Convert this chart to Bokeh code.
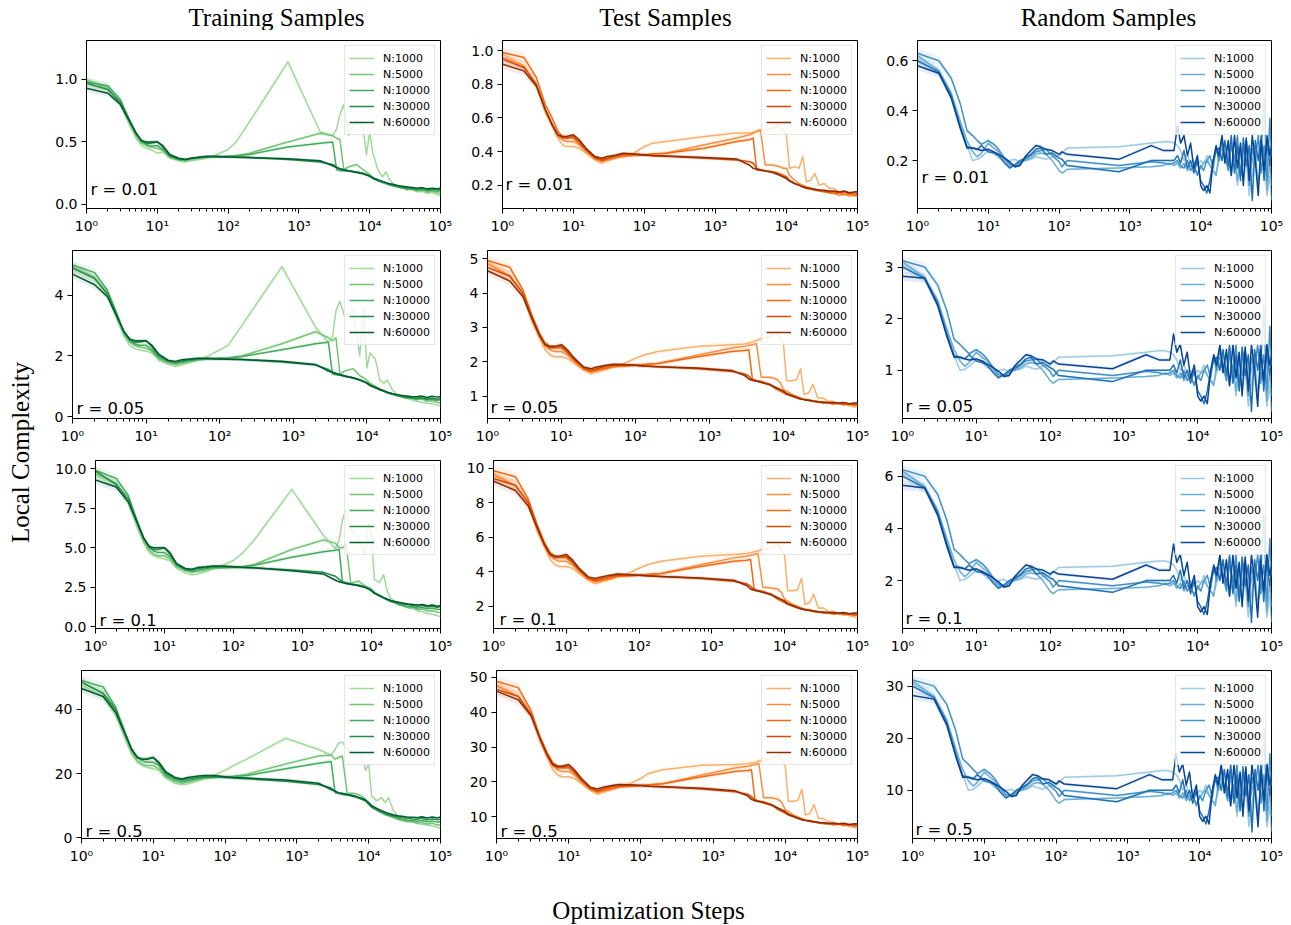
from bokeh.plotting import figure
from bokeh.layouts import row, column
from bokeh.models import FixedTicker, PrintfTickFormatter, CustomJSTickFormatter, Label, Range1d
from bokeh.embed import file_html
from bokeh.resources import INLINE
from bokeh.core.properties import value
import sys

# ---------------- data ----------------
COL_TITLES = ["Training Samples", "Test Samples", "Random Samples"]
Y_TITLE = "Local Complexity"
X_TITLE = "Optimization Steps"
N_LABELS = ["N:1000", "N:5000", "N:10000", "N:30000", "N:60000"]
R_LABELS = ["r = 0.01", "r = 0.05", "r = 0.1", "r = 0.5"]
X_TICKS = [1, 10, 100, 1000, 10000, 100000]

# optimisation steps at which train / test samples were read
steps_tt = [1, 2, 3, 4, 5, 6, 7, 8, 10, 12, 15, 20, 25, 30, 40, 50, 70, 100, 130, 200,
            700, 2000, 3000, 3400, 3800, 4300, 5000, 6500, 8000, 9000, 10000,
            11000, 13000, 15000, 17000, 19000, 22000, 25000, 29000, 34000, 40000,
            47000, 55000, 65000, 77000, 90000, 100000]
# optimisation steps at which random samples were read
steps_rand = [1, 2, 3, 4, 5, 6, 7, 8, 10, 12, 14, 17, 20, 24, 28, 33, 40, 47, 55, 65, 80, 100, 110, 130,
              700, 2000, 3000, 3600,
              4200, 4700, 5200, 5800, 6500, 7200, 8000, 9000, 10000, 11000, 12200, 13500, 15000,
              16500, 18000, 20000, 22000, 24500, 27000, 30000, 33000, 36500, 40000, 44000, 48500,
              53500, 59000, 65000, 71500, 78500, 86500, 95000, 100000]

# ---- Training samples ----
train_r001_n1000 = [1.00,0.94,0.80,0.64,0.53,0.47,0.45,0.44,0.41,0.42,0.37,0.35,0.34,0.35,0.36,0.37,0.40,0.44,0.50,0.66,1.14,0.58,0.55,0.60,0.72,0.80,0.55,0.68,0.62,0.40,0.58,0.42,0.28,0.22,0.26,0.20,0.16,0.14,0.13,0.115,0.12,0.10,0.105,0.09,0.095,0.08,0.07]
train_r001_n5000 = [0.99,0.93,0.81,0.66,0.55,0.49,0.47,0.46,0.45,0.43,0.38,0.355,0.35,0.36,0.37,0.375,0.38,0.385,0.39,0.41,0.50,0.57,0.55,0.53,0.52,0.28,0.30,0.32,0.28,0.26,0.24,0.22,0.19,0.18,0.17,0.16,0.15,0.14,0.135,0.12,0.125,0.11,0.115,0.10,0.105,0.095,0.09]
train_r001_n10000 = [0.98,0.95,0.84,0.68,0.57,0.50,0.48,0.47,0.47,0.44,0.385,0.36,0.355,0.365,0.375,0.38,0.38,0.385,0.39,0.40,0.46,0.49,0.50,0.28,0.27,0.27,0.265,0.26,0.25,0.24,0.23,0.21,0.19,0.175,0.165,0.155,0.145,0.14,0.13,0.125,0.12,0.115,0.12,0.11,0.115,0.105,0.11]
train_r001_n30000 = [0.97,0.92,0.82,0.68,0.57,0.51,0.49,0.49,0.50,0.46,0.39,0.365,0.36,0.37,0.375,0.38,0.38,0.38,0.378,0.375,0.36,0.34,0.32,0.30,0.285,0.28,0.27,0.26,0.25,0.24,0.23,0.215,0.20,0.185,0.175,0.165,0.155,0.15,0.14,0.135,0.13,0.125,0.13,0.12,0.125,0.115,0.12]
train_r001_n60000 = [0.93,0.89,0.80,0.67,0.57,0.51,0.50,0.50,0.50,0.47,0.40,0.37,0.36,0.37,0.38,0.385,0.385,0.38,0.378,0.375,0.365,0.35,0.31,0.295,0.285,0.275,0.27,0.255,0.245,0.235,0.225,0.21,0.195,0.185,0.175,0.165,0.16,0.15,0.145,0.14,0.135,0.13,0.135,0.125,0.13,0.125,0.13]

train_r005_n1000 = [4.95,4.6,4.0,3.2,2.65,2.35,2.25,2.2,2.15,2.1,1.85,1.72,1.65,1.7,1.78,1.85,2.0,2.2,2.35,3.0,4.95,2.95,2.45,2.6,3.5,3.8,3.3,3.5,2.0,3.6,1.6,2.1,1.9,1.2,1.1,1.2,0.9,0.75,0.68,0.6,0.56,0.5,0.47,0.44,0.42,0.38,0.35]
train_r005_n5000 = [4.95,4.6,4.0,3.3,2.7,2.45,2.35,2.3,2.25,2.15,1.9,1.77,1.72,1.76,1.82,1.86,1.9,1.92,1.93,2.0,2.4,2.8,2.6,2.5,2.6,1.4,1.5,1.58,1.35,1.28,1.2,1.1,1.0,0.9,0.85,0.8,0.75,0.7,0.65,0.6,0.62,0.55,0.58,0.5,0.52,0.46,0.45]
train_r005_n10000 = [5.0,4.75,4.15,3.4,2.8,2.5,2.4,2.35,2.35,2.2,1.95,1.8,1.75,1.8,1.85,1.88,1.9,1.92,1.93,1.98,2.2,2.4,2.45,1.4,1.38,1.36,1.33,1.28,1.22,1.17,1.12,1.05,0.95,0.88,0.83,0.78,0.73,0.7,0.66,0.62,0.6,0.58,0.6,0.55,0.57,0.53,0.55]
train_r005_n30000 = [4.9,4.55,4.05,3.35,2.8,2.55,2.45,2.45,2.5,2.3,2.0,1.85,1.8,1.83,1.87,1.9,1.9,1.9,1.89,1.88,1.8,1.7,1.55,1.47,1.42,1.38,1.35,1.28,1.2,1.15,1.1,1.02,0.95,0.88,0.83,0.78,0.74,0.7,0.67,0.64,0.62,0.6,0.63,0.58,0.6,0.57,0.6]
train_r005_n60000 = [4.7,4.35,3.95,3.3,2.8,2.55,2.5,2.5,2.5,2.35,2.05,1.85,1.82,1.87,1.9,1.92,1.92,1.9,1.89,1.88,1.82,1.72,1.5,1.45,1.42,1.38,1.33,1.27,1.2,1.15,1.1,1.03,0.96,0.9,0.85,0.8,0.76,0.73,0.7,0.68,0.66,0.65,0.68,0.63,0.67,0.64,0.66]

train_r01_n1000 = [9.6,9.0,7.8,6.3,5.3,4.7,4.5,4.4,4.3,4.2,3.7,3.4,3.3,3.35,3.5,3.65,3.9,4.2,4.6,5.5,8.7,5.8,4.95,5.5,6.8,7.4,6.2,5.6,4.6,6.6,5.8,3.0,2.8,3.3,2.2,1.8,1.6,1.45,1.35,1.25,1.15,1.0,0.95,0.85,0.8,0.7,0.65]
train_r01_n5000 = [9.7,9.1,7.9,6.5,5.4,4.85,4.6,4.5,4.5,4.3,3.8,3.55,3.45,3.5,3.6,3.7,3.72,3.75,3.78,3.95,4.9,5.5,5.3,5.0,5.0,5.2,2.75,2.9,2.6,2.5,2.4,2.2,2.0,1.85,1.7,1.6,1.5,1.4,1.3,1.2,1.22,1.1,1.12,1.0,1.02,0.92,0.9]
train_r01_n10000 = [9.9,9.4,8.3,6.7,5.6,5.0,4.8,4.7,4.7,4.45,3.9,3.6,3.5,3.6,3.7,3.75,3.75,3.77,3.8,3.9,4.4,4.75,4.85,4.9,2.8,2.75,2.7,2.65,2.55,2.45,2.35,2.15,1.95,1.8,1.7,1.6,1.5,1.42,1.35,1.28,1.25,1.2,1.22,1.15,1.18,1.1,1.12]
train_r01_n30000 = [9.85,9.0,8.1,6.7,5.6,5.05,4.9,4.9,5.0,4.6,3.95,3.65,3.6,3.7,3.75,3.8,3.8,3.78,3.75,3.72,3.6,3.45,3.2,3.0,2.85,2.8,2.72,2.62,2.5,2.4,2.3,2.15,2.0,1.85,1.75,1.65,1.55,1.5,1.45,1.4,1.35,1.3,1.35,1.25,1.3,1.22,1.28]
train_r01_n60000 = [9.3,8.85,7.9,6.6,5.6,5.1,5.0,5.0,5.0,4.7,4.0,3.7,3.65,3.75,3.8,3.85,3.85,3.8,3.77,3.74,3.55,3.35,2.95,2.85,2.8,2.75,2.7,2.6,2.5,2.4,2.28,2.12,1.98,1.85,1.75,1.67,1.6,1.55,1.5,1.45,1.42,1.38,1.42,1.33,1.38,1.3,1.35]

train_r05_n1000 = [47.5,44,38,31,26,23.5,22.5,22,21.5,21,18.5,17,16.5,16.8,17.5,18.3,19.5,21,22.5,24.5,31,27.5,25.7,27.5,29.5,29.8,28,25.5,27,21,23,13,11.5,12.5,11,12.5,8.5,7,6,5.5,5,4.5,4.2,4,3.7,3.3,3]
train_r05_n5000 = [48.5,45,39,32,26.5,24,23,22.5,22.5,21.5,19,17.5,17,17.3,18,18.5,18.8,19,19.2,19.8,23,25.5,25.8,24.5,25,25.5,14,13.8,13,12,10.5,9.5,8.5,7.8,7.2,6.8,6.3,5.8,5.4,5,5.1,4.6,4.8,4.3,4.5,4,4]
train_r05_n10000 = [49,47,40.5,33,27.5,25,24,23.5,23.5,22.5,19.5,18,17.5,17.8,18.3,18.7,18.8,19,19.1,19.4,21.5,23.2,23.8,14,13.8,13.5,13.3,12.8,12.2,11.5,10.8,9.8,8.8,8,7.5,7,6.6,6.2,5.8,5.5,5.4,5.2,5.4,5,5.2,4.9,5]
train_r05_n30000 = [48.5,45,40,33,27.5,25,24.5,24.5,25,23,20,18.5,18,18.3,18.7,19,19,18.8,18.6,18.4,17.6,16.6,15.5,14.5,14,13.8,13.5,12.8,12,11.5,10.5,9.6,8.7,8,7.6,7.2,6.9,6.6,6.3,6.1,5.9,5.8,6.1,5.6,5.9,5.6,5.8]
train_r05_n60000 = [46.5,44,39,32.5,27.5,25,24.5,24.5,25,23.5,20.5,18.8,18.3,18.8,19.2,19.4,19.4,19,18.8,18.6,18,17,15,14.5,14,13.8,13.5,13,12.3,11.8,11,10,9.2,8.5,8,7.6,7.2,6.9,6.7,6.5,6.4,6.3,6.6,6.2,6.5,6.2,6.5]

# ---- Test samples ----
test_r001_n1000 = [0.98,0.91,0.79,0.63,0.55,0.48,0.44,0.43,0.43,0.42,0.39,0.35,0.33,0.345,0.36,0.37,0.39,0.43,0.45,0.46,0.49,0.51,0.51,0.515,0.52,0.525,0.53,0.54,0.56,0.52,0.5,0.3,0.31,0.3,0.37,0.22,0.23,0.27,0.2,0.21,0.18,0.18,0.16,0.16,0.145,0.14,0.13]
test_r001_n5000 = [0.96,0.91,0.8,0.65,0.56,0.49,0.47,0.46,0.46,0.44,0.4,0.355,0.34,0.35,0.365,0.37,0.375,0.38,0.385,0.39,0.44,0.48,0.5,0.51,0.52,0.53,0.32,0.32,0.31,0.3,0.3,0.26,0.23,0.21,0.2,0.19,0.18,0.175,0.17,0.16,0.155,0.15,0.14,0.145,0.135,0.14,0.13]
test_r001_n10000 = [0.99,0.96,0.84,0.68,0.6,0.52,0.49,0.48,0.48,0.45,0.41,0.36,0.345,0.355,0.37,0.375,0.38,0.38,0.385,0.39,0.42,0.46,0.47,0.48,0.29,0.29,0.285,0.28,0.27,0.26,0.25,0.23,0.21,0.2,0.19,0.18,0.175,0.17,0.165,0.16,0.155,0.15,0.155,0.145,0.15,0.14,0.145]
test_r001_n30000 = [0.95,0.9,0.8,0.65,0.56,0.5,0.48,0.48,0.49,0.46,0.41,0.365,0.35,0.36,0.375,0.385,0.385,0.38,0.375,0.372,0.36,0.35,0.34,0.33,0.3,0.29,0.285,0.275,0.26,0.25,0.24,0.225,0.21,0.2,0.19,0.185,0.18,0.175,0.17,0.165,0.16,0.16,0.155,0.16,0.15,0.155,0.15]
test_r001_n60000 = [0.92,0.88,0.79,0.65,0.56,0.5,0.49,0.49,0.5,0.47,0.42,0.37,0.36,0.37,0.38,0.39,0.385,0.38,0.376,0.373,0.365,0.355,0.32,0.3,0.295,0.29,0.285,0.275,0.26,0.25,0.24,0.225,0.21,0.2,0.19,0.185,0.18,0.175,0.17,0.17,0.165,0.165,0.16,0.165,0.155,0.16,0.16]

test_r005_n1000 = [4.9,4.5,3.95,3.15,2.7,2.35,2.2,2.15,2.15,2.1,1.95,1.75,1.65,1.7,1.78,1.85,1.95,2.1,2.2,2.3,2.45,2.5,2.52,2.55,2.58,2.62,2.68,2.72,2.9,2.7,2.5,1.45,1.45,1.48,1.8,1.05,1.1,1.35,0.95,0.95,0.85,0.85,0.78,0.78,0.72,0.7,0.65]
test_r005_n5000 = [4.85,4.5,4.0,3.25,2.75,2.45,2.35,2.3,2.3,2.2,2.0,1.78,1.7,1.74,1.8,1.85,1.87,1.9,1.92,1.95,2.2,2.4,2.45,2.48,2.5,2.53,1.55,1.55,1.5,1.4,1.2,1.15,1.05,1.0,0.95,0.92,0.9,0.87,0.85,0.82,0.8,0.78,0.8,0.75,0.78,0.74,0.75]
test_r005_n10000 = [4.95,4.75,4.1,3.35,2.85,2.55,2.45,2.4,2.4,2.25,2.05,1.8,1.72,1.76,1.82,1.87,1.88,1.9,1.92,1.95,2.15,2.3,2.33,2.35,1.5,1.45,1.43,1.35,1.2,1.15,1.1,1.05,1.0,0.95,0.92,0.9,0.87,0.85,0.83,0.8,0.8,0.77,0.8,0.75,0.78,0.73,0.75]
test_r005_n30000 = [4.75,4.5,4.0,3.3,2.8,2.5,2.4,2.42,2.45,2.3,2.05,1.82,1.75,1.8,1.87,1.9,1.9,1.9,1.88,1.86,1.8,1.72,1.65,1.58,1.48,1.45,1.42,1.35,1.25,1.2,1.15,1.08,1.02,0.97,0.93,0.9,0.88,0.85,0.83,0.82,0.8,0.8,0.78,0.8,0.76,0.78,0.76]
test_r005_n60000 = [4.65,4.35,3.9,3.25,2.78,2.5,2.45,2.45,2.5,2.35,2.1,1.85,1.8,1.85,1.9,1.93,1.92,1.9,1.88,1.86,1.82,1.75,1.6,1.5,1.46,1.44,1.4,1.33,1.24,1.19,1.14,1.07,1.01,0.96,0.92,0.9,0.88,0.86,0.84,0.83,0.82,0.82,0.8,0.82,0.78,0.8,0.8]

test_r01_n1000 = [9.7,9.0,7.9,6.3,5.4,4.7,4.4,4.3,4.3,4.2,3.9,3.5,3.3,3.4,3.55,3.7,3.9,4.2,4.4,4.6,4.9,5.0,5.05,5.1,5.15,5.2,5.3,5.35,5.6,5.3,4.9,2.9,2.9,2.95,3.6,2.1,2.2,2.7,1.9,1.9,1.7,1.7,1.56,1.56,1.45,1.4,1.3]
test_r01_n5000 = [9.6,9.0,8.0,6.5,5.5,4.9,4.7,4.6,4.6,4.4,4.0,3.55,3.4,3.48,3.6,3.7,3.74,3.8,3.84,3.9,4.4,4.8,4.9,4.95,5.0,5.05,3.1,3.05,3.0,2.8,2.4,2.3,2.1,2.0,1.9,1.84,1.8,1.74,1.7,1.64,1.6,1.56,1.6,1.5,1.56,1.48,1.5]
test_r01_n10000 = [9.85,9.5,8.2,6.7,5.7,5.1,4.9,4.8,4.8,4.5,4.1,3.6,3.44,3.52,3.64,3.74,3.76,3.8,3.84,3.9,4.3,4.6,4.66,4.7,3.0,2.9,2.86,2.7,2.4,2.3,2.2,2.1,2.0,1.9,1.84,1.8,1.74,1.7,1.66,1.6,1.6,1.54,1.6,1.5,1.56,1.46,1.5]
test_r01_n30000 = [9.4,9.0,8.0,6.6,5.6,5.0,4.8,4.84,4.9,4.6,4.1,3.64,3.5,3.6,3.74,3.8,3.8,3.8,3.76,3.72,3.6,3.44,3.3,3.16,2.96,2.9,2.84,2.7,2.5,2.4,2.3,2.16,2.04,1.94,1.86,1.8,1.76,1.7,1.66,1.64,1.6,1.6,1.56,1.6,1.52,1.56,1.52]
test_r01_n60000 = [9.25,8.7,7.8,6.5,5.56,5.0,4.9,4.9,5.0,4.7,4.2,3.7,3.6,3.7,3.8,3.86,3.84,3.8,3.76,3.72,3.64,3.5,3.2,3.0,2.92,2.88,2.8,2.66,2.48,2.38,2.28,2.14,2.02,1.92,1.84,1.8,1.76,1.72,1.68,1.66,1.64,1.64,1.6,1.64,1.56,1.6,1.6]

test_r05_n1000 = [48,44.5,39,31.5,27,23.5,22,21.5,21.5,21,19.5,17.5,16.5,17,17.8,18.5,19.5,21,22.5,23.5,24.8,25,25.2,25.4,25.6,26,26.3,26.6,27.8,26.5,24.5,14.5,14.5,14.8,18,10.5,11,13.5,9.5,9.5,8.5,8.5,7.8,7.8,7.2,7,6.5]
test_r05_n5000 = [47.5,44.5,39.5,32,27.5,24.5,23.5,23,23,22,20,17.8,17,17.4,18,18.5,18.7,19,19.2,19.5,22,24,24.5,24.8,25,25.3,15.5,15.5,15,14,12,11.5,10.5,10,9.5,9.2,9,8.7,8.5,8.2,8,7.8,8,7.5,7.8,7.4,7.5]
test_r05_n10000 = [48.8,47,40.5,33,28.5,25.5,24.5,24,24,22.5,20.5,18,17.2,17.6,18.2,18.7,18.8,19,19.2,19.5,21.5,23,23.3,23.5,15,14.5,14.3,13.5,12,11.5,11,10.5,10,9.5,9.2,9,8.7,8.5,8.3,8,8,7.7,8,7.5,7.8,7.3,7.5]
test_r05_n30000 = [46.5,44.5,39.5,32.5,28,25,24,24.2,24.5,23,20.5,18.2,17.5,18,18.7,19,19,19,18.8,18.6,18,17.2,16.5,15.8,14.8,14.5,14.2,13.5,12.5,12,11.5,10.8,10.2,9.7,9.3,9,8.8,8.5,8.3,8.2,8,8,7.8,8,7.6,7.8,7.6]
test_r05_n60000 = [46,43.5,39,32.5,27.8,25,24.5,24.5,25,23.5,21,18.5,18,18.5,19,19.3,19.2,19,18.8,18.6,18.2,17.5,16,15,14.6,14.4,14,13.3,12.4,11.9,11.4,10.7,10.1,9.6,9.2,9,8.8,8.6,8.4,8.3,8.2,8.2,8,8.2,7.8,8,8]

# ---- Random samples ----
rand_r001_n1000 = [0.61,0.56,0.47,0.35,0.26,0.2,0.205,0.215,0.24,0.23,0.21,0.2,0.2,0.205,0.19,0.2,0.205,0.215,0.21,0.205,0.215,0.22,0.23,0.25,
                   0.255,0.27,0.275,0.275,
                   0.27,0.26,0.24,0.2,0.22,0.19,0.2,0.18,0.2,0.19,0.22,0.18,0.16,0.15,0.19,0.23,0.26,0.2,0.14,0.22,0.1,0.18,0.12,0.2,0.06,0.15,0.22,0.1,0.18,0.2,0.06,0.14,0.04]
rand_r001_n5000 = [0.62,0.56,0.47,0.36,0.28,0.235,0.215,0.23,0.27,0.25,0.235,0.2,0.175,0.18,0.195,0.2,0.21,0.225,0.23,0.225,0.2,0.16,0.15,0.165,
                   0.17,0.175,0.18,0.19,
                   0.18,0.19,0.17,0.19,0.16,0.18,0.17,0.15,0.17,0.19,0.2,0.18,0.16,0.14,0.22,0.25,0.2,0.27,0.15,0.22,0.12,0.24,0.18,0.28,0.14,0.2,0.24,0.1,0.22,0.45,0.08,0.2,0.1]
rand_r001_n10000 = [0.63,0.6,0.53,0.43,0.32,0.3,0.28,0.265,0.28,0.265,0.245,0.21,0.185,0.175,0.19,0.205,0.22,0.235,0.24,0.245,0.22,0.195,0.175,0.2,
                    0.18,0.195,0.19,0.185,
                    0.19,0.2,0.18,0.17,0.2,0.16,0.18,0.14,0.18,0.16,0.2,0.22,0.17,0.25,0.2,0.28,0.22,0.16,0.26,0.2,0.3,0.14,0.24,0.28,0.1,0.25,0.2,0.3,0.15,0.26,0.12,0.37,0.22]
rand_r001_n30000 = [0.6,0.555,0.46,0.34,0.255,0.25,0.245,0.26,0.235,0.23,0.22,0.19,0.17,0.185,0.2,0.21,0.225,0.245,0.25,0.225,0.23,0.21,0.205,0.18,
                    0.155,0.2,0.2,0.2,
                    0.2,0.22,0.19,0.24,0.17,0.2,0.15,0.2,0.12,0.1,0.07,0.12,0.2,0.24,0.25,0.2,0.28,0.18,0.3,0.15,0.26,0.12,0.29,0.18,0.26,0.04,0.28,0.2,0.3,0.12,0.27,0.18,0.24]
rand_r001_n60000 = [0.58,0.55,0.45,0.33,0.25,0.25,0.245,0.24,0.245,0.235,0.225,0.21,0.195,0.175,0.18,0.215,0.24,0.26,0.255,0.245,0.24,0.225,0.235,0.225,
                    0.205,0.26,0.24,0.24,
                    0.24,0.34,0.27,0.3,0.22,0.27,0.17,0.22,0.1,0.08,0.1,0.07,0.2,0.26,0.22,0.3,0.19,0.28,0.14,0.3,0.17,0.27,0.1,0.29,0.12,0.3,0.2,0.06,0.28,0.16,0.3,0.22,0.26]

rand_r005_n1000 = [3.05,2.8,2.35,1.75,1.3,1.0,1.02,1.08,1.2,1.15,1.05,1.0,1.0,1.02,0.95,1.0,1.02,1.08,1.05,1.02,1.08,1.1,1.15,1.25,
                   1.28,1.35,1.38,1.38,
                   1.35,1.3,1.2,1.0,1.1,0.95,1.0,0.9,1.0,0.95,1.1,0.9,0.8,0.75,0.95,1.15,1.3,1.0,0.7,1.1,0.5,0.9,0.6,1.0,0.3,0.75,1.1,0.5,0.9,1.0,0.3,0.7,0.2]
rand_r005_n5000 = [3.1,2.8,2.35,1.8,1.4,1.18,1.08,1.15,1.35,1.25,1.18,1.0,0.88,0.9,0.98,1.0,1.05,1.12,1.15,1.12,1.0,0.8,0.75,0.82,
                   0.85,0.88,0.9,0.95,
                   0.9,0.95,0.85,0.95,0.8,0.9,0.85,0.75,0.85,0.95,1.0,0.9,0.8,0.7,1.1,1.25,1.0,1.35,0.75,1.1,0.6,1.2,0.9,1.4,0.7,1.0,1.2,0.5,1.1,2.25,0.4,1.0,0.5]
rand_r005_n10000 = [3.12,3.0,2.65,2.15,1.6,1.5,1.4,1.32,1.4,1.32,1.22,1.05,0.92,0.88,0.95,1.02,1.1,1.18,1.2,1.22,1.1,0.98,0.88,1.0,
                    0.9,0.98,0.95,0.92,
                    0.95,1.0,0.9,0.85,1.0,0.8,0.9,0.7,0.9,0.8,1.0,1.1,0.85,1.25,1.0,1.4,1.1,0.8,1.3,1.0,1.5,0.7,1.2,1.4,0.5,1.25,1.0,1.5,0.75,1.3,0.6,1.85,1.1]
rand_r005_n30000 = [3.0,2.78,2.3,1.7,1.28,1.25,1.22,1.3,1.18,1.15,1.1,0.95,0.85,0.92,1.0,1.05,1.12,1.22,1.25,1.12,1.15,1.05,1.02,0.9,
                    0.78,1.0,1.0,1.0,
                    1.0,1.1,0.95,1.2,0.85,1.0,0.75,1.0,0.6,0.5,0.35,0.6,1.0,1.2,1.25,1.0,1.4,0.9,1.5,0.75,1.3,0.6,1.45,0.9,1.3,0.2,1.4,1.0,1.5,0.6,1.35,0.9,1.2]
rand_r005_n60000 = [2.82,2.78,2.25,1.65,1.25,1.25,1.22,1.2,1.22,1.18,1.12,1.05,0.98,0.88,0.9,1.08,1.2,1.3,1.28,1.22,1.2,1.12,1.18,1.12,
                    1.03,1.3,1.2,1.2,
                    1.2,1.7,1.35,1.5,1.1,1.35,0.85,1.1,0.5,0.4,0.5,0.35,1.0,1.3,1.1,1.5,0.95,1.4,0.7,1.5,0.85,1.35,0.5,1.45,0.6,1.5,1.0,0.3,1.4,0.8,1.5,1.1,1.3]

rand_r01_n1000 = [6.1,5.6,4.7,3.5,2.6,2.0,2.05,2.15,2.4,2.3,2.1,2.0,2.0,2.05,1.9,2.0,2.05,2.15,2.1,2.05,2.15,2.2,2.3,2.5,
                  2.55,2.7,2.75,2.75,
                  2.7,2.6,2.4,2.0,2.2,1.9,2.0,1.8,2.0,1.9,2.2,1.8,1.6,1.5,1.9,2.3,2.6,2.0,1.4,2.2,1.0,1.8,1.2,2.0,0.6,1.5,2.2,1.0,1.8,2.0,0.6,1.4,0.4]
rand_r01_n5000 = [6.2,5.6,4.7,3.6,2.8,2.35,2.15,2.3,2.7,2.5,2.35,2.0,1.75,1.8,1.95,2.0,2.1,2.25,2.3,2.25,2.0,1.6,1.5,1.65,
                  1.7,1.75,1.8,1.9,
                  1.8,1.9,1.7,1.9,1.6,1.8,1.7,1.5,1.7,1.9,2.0,1.8,1.6,1.4,2.2,2.5,2.0,2.7,1.5,2.2,1.2,2.4,1.8,2.8,1.4,2.0,2.4,1.0,2.2,4.5,0.8,2.0,1.0]
rand_r01_n10000 = [6.25,6.0,5.3,4.3,3.2,3.0,2.8,2.65,2.8,2.65,2.45,2.1,1.85,1.75,1.9,2.05,2.2,2.35,2.4,2.45,2.2,1.95,1.75,2.0,
                   1.8,1.95,1.9,1.85,
                   1.9,2.0,1.8,1.7,2.0,1.6,1.8,1.4,1.8,1.6,2.0,2.2,1.7,2.5,2.0,2.8,2.2,1.6,2.6,2.0,3.0,1.4,2.4,2.8,1.0,2.5,2.0,3.0,1.5,2.6,1.2,3.6,2.2]
rand_r01_n30000 = [6.0,5.55,4.6,3.4,2.55,2.5,2.45,2.6,2.35,2.3,2.2,1.9,1.7,1.85,2.0,2.1,2.25,2.45,2.5,2.25,2.3,2.1,2.05,1.8,
                   1.55,2.0,2.0,2.0,
                   2.0,2.2,1.9,2.4,1.7,2.0,1.5,2.0,1.2,1.0,0.7,1.2,2.0,2.4,2.5,2.0,2.8,1.8,3.0,1.5,2.6,1.2,2.9,1.8,2.6,0.4,2.8,2.0,3.0,1.2,2.7,1.8,2.4]
rand_r01_n60000 = [5.65,5.55,4.5,3.3,2.5,2.5,2.45,2.4,2.45,2.35,2.25,2.1,1.95,1.75,1.8,2.15,2.4,2.6,2.55,2.45,2.4,2.25,2.35,2.25,
                   2.05,2.6,2.4,2.4,
                   2.4,3.4,2.7,3.0,2.2,2.7,1.7,2.2,1.0,0.8,1.0,0.7,2.0,2.6,2.2,3.0,1.9,2.8,1.4,3.0,1.7,2.7,1.0,2.9,1.2,3.0,2.0,0.6,2.8,1.6,3.0,2.2,2.6]

rand_r05_n1000 = [30.5,28,23.5,17.5,13,10,10.2,10.8,12,11.5,10.5,10,10,10.2,9.5,10,10.2,10.8,10.5,10.2,10.8,11,11.5,12.5,
                  12.8,13.5,13.8,13.8,
                  13.5,13,12,10,11,9.5,10,9,10,9.5,11,9,8,7.5,9.5,11.5,13,10,7,11,5,9,6,10,3,7.5,11,5,9,10,3,7,2]
rand_r05_n5000 = [31,28,23.5,18,14,11.8,10.8,11.5,13.5,12.5,11.8,10,8.8,9,9.8,10,10.5,11.2,11.5,11.2,10,8,7.5,8.2,
                  8.5,8.8,9,9.5,
                  9,9.5,8.5,9.5,8,9,8.5,7.5,8.5,9.5,10,9,8,7,11,12.5,10,13.5,7.5,11,6,12,9,14,7,10,12,5,11,22,4,10,5]
rand_r05_n10000 = [31.2,30,26.5,21.5,16,15,14,13.2,14,13.2,12.2,10.5,9.2,8.8,9.5,10.2,11,11.8,12,12.2,11,9.8,8.8,10,
                   9,9.8,9.5,9.2,
                   9.5,10,9,8.5,10,8,9,7,9,8,10,11,8.5,12.5,10,14,11,8,13,10,15,7,12,14,5,12.5,10,15,7.5,13,6,17,11]
rand_r05_n30000 = [30,27.8,23,17,12.8,12.5,12.2,13,11.8,11.5,11,9.5,8.5,9.2,10,10.5,11.2,12.2,12.5,11.2,11.5,10.5,10.2,9,
                   7.8,10,10,10,
                   10,11,9.5,12,8.5,10,7.5,10,6,5,3.5,6,10,12,12.5,10,14,9,15,7.5,13,6,14.5,9,13,2,14,10,15,6,13.5,9,12]
rand_r05_n60000 = [28.2,27.5,22.5,16.5,12.5,12.5,12.2,12,12.2,11.8,11.2,10.5,9.8,8.8,9,10.8,12,13,12.8,12.2,12,11.2,11.8,11.2,
                   10.3,13,12,12,
                   12,17,13.5,15,11,13.5,8.5,11,5,4,5,3.5,10,13,11,15,9.5,14,7,15,8.5,13.5,5,14.5,6,15,10,3,14,8,15,11,13]

# y-axis tick values for each panel (row = r value, column = sample type)
Y_TICKS = [
    [[0.0, 0.5, 1.0], [0.2, 0.4, 0.6, 0.8, 1.0], [0.2, 0.4, 0.6]],
    [[0, 2, 4], [1, 2, 3, 4, 5], [1, 2, 3]],
    [[0.0, 2.5, 5.0, 7.5, 10.0], [2, 4, 6, 8, 10], [2, 4, 6]],
    [[0, 20, 40], [10, 20, 30, 40, 50], [10, 20, 30]],
]
Y_RANGES = [
    [(-0.032, 1.311), (0.061, 1.061), (0.008, 0.681)],
    [(-0.066, 5.48), (0.351, 5.24), (0.065, 3.32)],
    [(-0.105, 10.53), (0.709, 10.44), (0.166, 6.6)],
    [(-0.2, 52.1), (3.81, 51.9), (0.73, 33.0)],
]
Y_FMT = [["%.1f", "%.1f", "%.1f"], ["%d", "%d", "%d"], ["%.1f", "%d", "%d"], ["%d", "%d", "%d"]]

PANELS = {
    (0, 0): [train_r001_n1000, train_r001_n5000, train_r001_n10000, train_r001_n30000, train_r001_n60000],
    (1, 0): [train_r005_n1000, train_r005_n5000, train_r005_n10000, train_r005_n30000, train_r005_n60000],
    (2, 0): [train_r01_n1000, train_r01_n5000, train_r01_n10000, train_r01_n30000, train_r01_n60000],
    (3, 0): [train_r05_n1000, train_r05_n5000, train_r05_n10000, train_r05_n30000, train_r05_n60000],
    (0, 1): [test_r001_n1000, test_r001_n5000, test_r001_n10000, test_r001_n30000, test_r001_n60000],
    (1, 1): [test_r005_n1000, test_r005_n5000, test_r005_n10000, test_r005_n30000, test_r005_n60000],
    (2, 1): [test_r01_n1000, test_r01_n5000, test_r01_n10000, test_r01_n30000, test_r01_n60000],
    (3, 1): [test_r05_n1000, test_r05_n5000, test_r05_n10000, test_r05_n30000, test_r05_n60000],
    (0, 2): [rand_r001_n1000, rand_r001_n5000, rand_r001_n10000, rand_r001_n30000, rand_r001_n60000],
    (1, 2): [rand_r005_n1000, rand_r005_n5000, rand_r005_n10000, rand_r005_n30000, rand_r005_n60000],
    (2, 2): [rand_r01_n1000, rand_r01_n5000, rand_r01_n10000, rand_r01_n30000, rand_r01_n60000],
    (3, 2): [rand_r05_n1000, rand_r05_n5000, rand_r05_n10000, rand_r05_n30000, rand_r05_n60000],
}
STEPS = [steps_tt, steps_tt, steps_rand]

# ---------------- styling / layout ----------------
PALETTES = [
    ["#a1d99b", "#74c476", "#41ab5d", "#238b45", "#005a32"],
    ["#fdae6b", "#fd8d3c", "#f16913", "#d94801", "#8c2d04"],
    ["#9ecae1", "#6baed6", "#4292c6", "#2171b5", "#084594"],
]
BAND = 0.03
TICK_FONT = "DejaVu Sans"
SERIF = "Liberation Serif"

TOTAL_W, TOTAL_H = 1291, 925
LEFT_W, TOP_H, ROW_H, BOT_H = 45, 30, 210, 55
FRAME_TOP, FRAME_BOT = 10, 32
FRAME_L = [[86, 501, 916], [72, 487, 902], [95, 492, 902], [81, 496, 911]]
FRAME_R = [440, 857, 1271]
BOUNDS = [(468, 883), (466, 881), (463, 881), (466, 882)]
LBL_POS = [[(4, 19), (3, 24), (4, 31)], [(4, 10), (3, 11), (3, 12.5)],
           [(4, 8), (6, 9), (3, 10)], [(4, 7.3), (4, 7.3), (3, 8.7)]]

MINOR = [k * 10 ** d for d in range(5) for k in range(2, 10)]
XFMT = CustomJSTickFormatter(code="""
var e = Math.round(Math.log(tick) / Math.LN10);
var s = ['\\u2070', '\\u00b9', '\\u00b2', '\\u00b3', '\\u2074', '\\u2075'];
return '10' + s[e];
""")


def make_panel(r, c):
    x0 = [LEFT_W, BOUNDS[r][0], BOUNDS[r][1]][c]
    x1 = [BOUNDS[r][0], BOUNDS[r][1], TOTAL_W][c]
    lo, hi = Y_RANGES[r][c]
    p = figure(width=x1 - x0, height=ROW_H, x_axis_type="log",
               x_range=Range1d(1, 100000), y_range=Range1d(lo, hi),
               output_backend="svg", toolbar_location=None,
               min_border_left=FRAME_L[r][c] - x0, min_border_right=x1 - FRAME_R[c],
               min_border_top=FRAME_TOP, min_border_bottom=FRAME_BOT)
    p.xgrid.grid_line_color = None
    p.ygrid.grid_line_color = None
    p.outline_line_color = "black"
    p.outline_line_width = 1
    p.outline_line_alpha = 1
    p.background_fill_color = "white"
    p.border_fill_color = "white"

    xs = STEPS[c]
    cols = PALETTES[c]
    series = PANELS[(r, c)]
    for k, ys in enumerate(series):
        if len(ys) != len(xs):
            print("length mismatch", r, c, k, len(ys), len(xs), file=sys.stderr)
        p.varea(x=xs, y1=[v * (1 - BAND) for v in ys], y2=[v * (1 + BAND) for v in ys],
                fill_color=cols[k], fill_alpha=0.1)
    for k, ys in enumerate(series):
        p.line(xs, ys, line_color=cols[k], line_width=1.5, line_join="round",
               legend_label=N_LABELS[k])

    p.xaxis.ticker = FixedTicker(ticks=X_TICKS, minor_ticks=MINOR)
    p.xaxis.formatter = XFMT
    p.yaxis.ticker = FixedTicker(ticks=Y_TICKS[r][c])
    p.yaxis.formatter = PrintfTickFormatter(format=Y_FMT[r][c])
    for ax in (p.xaxis[0], p.yaxis[0]):
        ax.axis_line_color = "black"
        ax.axis_line_width = 1
        ax.major_tick_line_color = "black"
        ax.minor_tick_line_color = "black"
        ax.major_tick_out = 5
        ax.major_tick_in = 0
        ax.minor_tick_out = 3
        ax.minor_tick_in = 0
        ax.major_label_standoff = 4
        ax.major_label_text_font = TICK_FONT
        ax.major_label_text_font_size = "14px"
        ax.major_label_text_color = "black"
    p.yaxis.minor_tick_line_color = None

    lg = p.legend[0]
    lg.location = "top_right"
    lg.margin = 5
    lg.padding = 4
    lg.spacing = 0
    lg.glyph_width = 25
    lg.glyph_height = 16
    lg.label_height = 16
    lg.label_standoff = 9
    lg.label_text_font = TICK_FONT
    lg.label_text_font_size = "11px"
    lg.label_text_color = "black"
    lg.border_line_color = "#cccccc"
    lg.border_line_width = 1
    lg.background_fill_color = "white"
    lg.background_fill_alpha = 0.8

    dx, dy = LBL_POS[r][c]
    p.add_layout(Label(x=dx, y=dy, x_units="screen", y_units="screen", text=R_LABELS[r],
                       text_font=TICK_FONT, text_font_size="16.5px", text_color="black",
                       text_baseline="alphabetic", text_align="left"))
    return p


def strip(w, h):
    s = figure(width=w, height=h, x_range=Range1d(0, w), y_range=Range1d(0, h),
               x_axis_type=None, y_axis_type=None, output_backend="svg",
               toolbar_location=None, min_border=0)
    s.outline_line_color = None
    s.background_fill_color = "white"
    s.border_fill_color = "white"
    return s


top = strip(TOTAL_W, TOP_H)
top.text(x=[276, 665, 1108], y=[TOP_H - 17] * 3, text=COL_TITLES,
         text_font=value(SERIF), text_font_size="25px", text_align="center",
         text_baseline="middle", text_color="black")

grid_h = 4 * ROW_H
left = strip(LEFT_W, grid_h)
left.text(x=[20], y=[grid_h - (452 - TOP_H)], text=[Y_TITLE], angle=[1.5707963],
          text_font=value(SERIF), text_font_size="25px", text_align="center",
          text_baseline="middle", text_color="black")

bottom = strip(TOTAL_W, BOT_H)
bottom.text(x=[648], y=[BOT_H - 40], text=[X_TITLE],
            text_font=value(SERIF), text_font_size="25px", text_align="center",
            text_baseline="middle", text_color="black")

rows = [row(*[make_panel(r, c) for c in range(3)]) for r in range(4)]
layout = column(top, row(left, column(*rows)), bottom)

with open("out.html", "w", encoding="utf-8") as f:
    f.write(file_html(layout, INLINE, title="Local Complexity"))
